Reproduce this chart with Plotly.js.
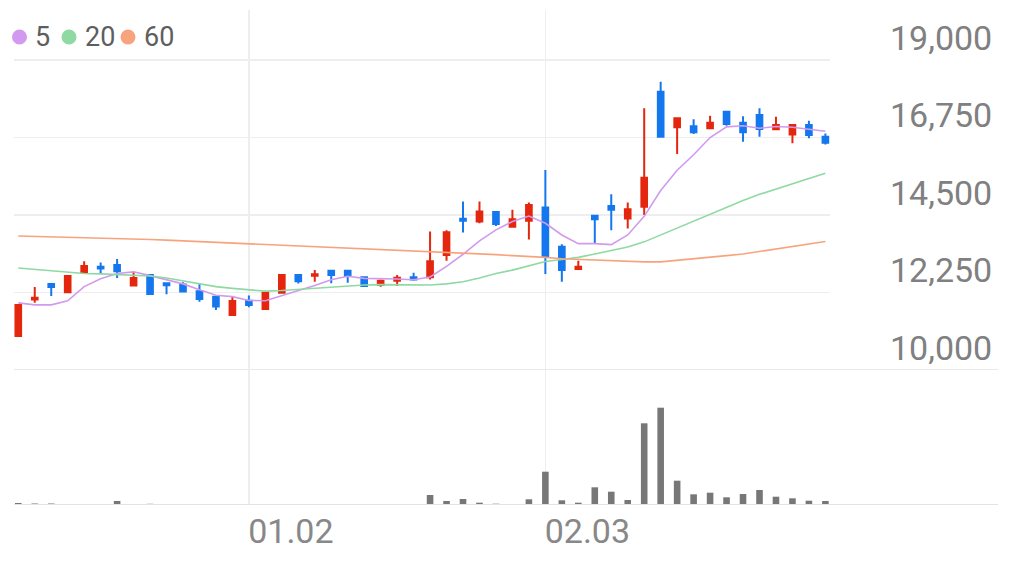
<!DOCTYPE html>
<html>
<head>
<meta charset="utf-8">
<script src="https://cdn.plot.ly/plotly-3.0.1.min.js"></script>
<style>
  html, body { margin: 0; padding: 0; background: #ffffff; }
  #chart { width: 1012px; height: 564px; }
</style>
</head>
<body>
<div id="chart"></div>
<script>
// ---- data ----
const dates = [
  '2024-12-10','2024-12-11','2024-12-12','2024-12-13','2024-12-16','2024-12-17','2024-12-18','2024-12-19','2024-12-20','2024-12-23',
  '2024-12-24','2024-12-26','2024-12-27','2024-12-30','2025-01-02','2025-01-03','2025-01-06','2025-01-07','2025-01-08','2025-01-09',
  '2025-01-10','2025-01-13','2025-01-14','2025-01-15','2025-01-16','2025-01-17','2025-01-20','2025-01-21','2025-01-22','2025-01-23',
  '2025-01-24','2025-01-31','2025-02-03','2025-02-04','2025-02-05','2025-02-06','2025-02-07','2025-02-10','2025-02-11','2025-02-12',
  '2025-02-13','2025-02-14','2025-02-17','2025-02-18','2025-02-19','2025-02-20','2025-02-21','2025-02-24','2025-02-25','2025-02-26'
];
const openP = [
  10990,12050,12500,12260,12820,13000,13050,12450,12760,12520,
  12480,12290,12130,11600,12010,11770,12240,12760,12740,12880,
  12880,12690,12470,12590,12690,12690,13340,14390,14310,14590,
  14160,14330,14720,13580,12930,14480,14760,14400,14740,18080,
  17050,17080,17020,17500,17180,17400,16990,16840,17110,16770
];
const highP = [
  11900,12410,12500,12740,13160,13120,13220,12850,12780,12530,
  12550,12520,12130,12130,12160,12250,12770,12760,12900,12880,
  12880,12700,12630,12760,12820,14020,14060,14890,14890,14590,
  14650,14860,15810,13650,13170,14480,15100,14860,17600,18370,
  17310,17280,17380,17520,17370,17600,17350,17120,17240,16870
];
const lowP = [
  10970,11950,12150,12250,12800,12790,12670,12440,12200,12200,
  12270,11980,11740,11590,11820,11760,12230,12510,12560,12520,
  12530,12430,12420,12440,12590,12630,13170,13990,14260,14180,
  14150,13790,12790,12560,12920,13680,14060,14110,14500,16770,
  16270,16850,17000,17090,16630,16770,16970,16580,16730,16550
];
const closeP = [
  11890,12100,12410,12730,13020,12950,12870,12670,12210,12460,
  12280,12060,11840,12000,11890,12240,12760,12580,12780,12760,
  12730,12440,12590,12680,12630,13160,14000,14330,14600,14240,
  14380,14790,13290,12900,13000,14380,14650,14670,15580,16770,
  17310,16900,17180,17140,16900,17000,17110,17110,16820,16600
];
const volume = [
  40,30,30,20,20,20,80,20,24,16,
  16,16,16,16,10,20,16,16,20,16,
  16,16,16,16,10,200,80,120,46,26,
  20,114,666,94,46,354,266,100,1634,1946,
  486,214,246,154,220,300,166,134,86,80
];
const ma5 = [
  11950,11890,11890,12010,12420,12650,12800,12850,12740,12630,
  12500,12330,12170,12130,12020,12010,12150,12300,12450,12620,
  12720,12660,12660,12640,12620,12700,13010,13360,13750,14070,
  14310,14470,14260,13920,13670,13670,13640,13920,14460,15210,
  15800,16250,16750,17060,17090,17020,17070,17050,16990,16930
];
const ma20 = [
  12960,12920,12870,12830,12800,12790,12770,12760,12730,12670,
  12580,12500,12420,12370,12320,12290,12310,12340,12380,12410,
  12450,12470,12480,12480,12480,12470,12500,12560,12670,12800,
  12900,13020,13150,13210,13270,13370,13470,13570,13720,13920,
  14120,14330,14530,14730,14920,15100,15260,15400,15560,15710
];
const ma60 = [
  13890,13880,13870,13860,13840,13830,13820,13800,13790,13770,
  13750,13730,13700,13680,13660,13640,13610,13590,13570,13550,
  13530,13510,13490,13470,13450,13430,13420,13400,13370,13350,
  13320,13300,13270,13230,13210,13180,13160,13140,13140,13140,
  13180,13220,13260,13320,13370,13440,13510,13590,13660,13730
];
const maNames = ['5', '20', '60'];
const maColors = ['#d19aee', '#8fd9a2', '#f7a47e'];
const xTickVals = ['2025-01-02', '2025-02-03'];
const xTickText = ['01.02', '02.03'];
const yTickVals = [10000, 12250, 14500, 16750, 19000];

// ---- geometry ----
const W = 1012, H = 564;
const plotLeft = 14, plotRight = 830, plotTop = 10, plotBottom = 505, fullRight = 998;
const plotW = plotRight - plotLeft, plotH = plotBottom - plotTop;
const px2x = px => (px - plotLeft) / plotW;
const py2y = py => (plotBottom - py) / plotH;
const volDomTop = (plotBottom - 370) / plotH;

// ---- traces ----
const traces = [];
[ma5, ma20, ma60].forEach((s, i) => {
  traces.push({
    type: 'scatter', mode: 'lines', x: dates, y: s, name: maNames[i],
    xaxis: 'x', yaxis: 'y',
    line: { color: maColors[i], width: 1.6 },
    showlegend: false, hoverinfo: 'skip'
  });
});
traces.push({
  type: 'candlestick', x: dates, open: openP, high: highP, low: lowP, close: closeP,
  xaxis: 'x', yaxis: 'y',
  increasing: { line: { color: '#e5260e', width: 2 }, fillcolor: '#e5260e' },
  decreasing: { line: { color: '#1577ee', width: 2 }, fillcolor: '#1577ee' },
  whiskerwidth: 0, showlegend: false, hoverinfo: 'skip'
});
traces.push({
  type: 'bar', x: dates, y: volume, xaxis: 'x2', yaxis: 'y2',
  marker: { color: '#777777' }, width: 0.4,
  showlegend: false, hoverinfo: 'skip'
});

// ---- custom legend (circle + label per moving average) ----
const legendCircleX = [19.5, 69, 128];
const legendTextX = [34, 84, 143];
const legendY = 37;
const shapes = [];
const annotations = [];
maNames.forEach((n, i) => {
  shapes.push({
    type: 'circle', xref: 'paper', yref: 'paper',
    x0: px2x(legendCircleX[i] - 7.5), x1: px2x(legendCircleX[i] + 7.5),
    y0: py2y(legendY + 7.5), y1: py2y(legendY - 7.5),
    fillcolor: maColors[i], line: { width: 0 }
  });
  annotations.push({
    xref: 'paper', yref: 'paper', x: px2x(legendTextX[i]), y: py2y(legendY),
    xanchor: 'left', yanchor: 'middle', showarrow: false, text: n,
    font: { size: 27, color: '#5e5e5e', family: 'Roboto, sans-serif' }, borderpad: 0
  });
});
shapes.push(
  { type: 'line', xref: 'paper', yref: 'y', x0: 0, x1: px2x(fullRight), y0: 10000, y1: 10000,
    line: { color: '#e9e9e9', width: 2 }, layer: 'below' },
  { type: 'line', xref: 'paper', yref: 'y2', x0: 0, x1: px2x(fullRight), y0: 0, y1: 0,
    line: { color: '#e3e3e3', width: 2 }, layer: 'above' }
);

const layout = {
  width: W, height: H,
  margin: { l: plotLeft, r: W - plotRight, t: plotTop, b: H - plotBottom, pad: 0 },
  paper_bgcolor: '#ffffff', plot_bgcolor: '#ffffff',
  font: { family: 'Roboto, sans-serif', color: '#808080' },
  hovermode: false, showlegend: false,
  boxgap: 0.51,
  xaxis: {
    type: 'category', range: [-0.26, 49.28], anchor: 'y',
    tickvals: xTickVals, showticklabels: false,
    showgrid: true, gridcolor: '#eeeeee', gridwidth: 1.5,
    zeroline: false, showline: false, ticks: '',
    rangeslider: { visible: false }, automargin: false
  },
  xaxis2: {
    type: 'category', range: [-0.26, 49.28], anchor: 'y2', matches: 'x',
    tickvals: xTickVals, ticktext: xTickText,
    showgrid: true, gridcolor: '#eeeeee', gridwidth: 1.5,
    zeroline: false, showline: false, ticks: '',
    tickfont: { size: 34, color: '#888888', family: 'Roboto, sans-serif' },
    ticklabelshift: 42, ticklabelstandoff: 3, automargin: false
  },
  yaxis: {
    domain: [volDomTop, 1], range: [10000, 20452], side: 'right', anchor: 'x',
    tickvals: yTickVals, tickformat: ',d',
    showgrid: true, gridcolor: '#eeeeee', gridwidth: 1.5,
    zeroline: false, showline: false, ticks: '',
    tickfont: { size: 34, color: '#808080', family: 'Roboto, sans-serif' },
    ticklabelshift: -22, ticklabelstandoff: 59, automargin: false
  },
  yaxis2: {
    domain: [0, volDomTop], range: [0, 2700], anchor: 'x2',
    showticklabels: false, showgrid: false, zeroline: false, showline: false, ticks: '',
    automargin: false
  },
  shapes: shapes,
  annotations: annotations
};

Plotly.newPlot('chart', traces, layout, { displayModeBar: false, staticPlot: true });
</script>
</body>
</html>
